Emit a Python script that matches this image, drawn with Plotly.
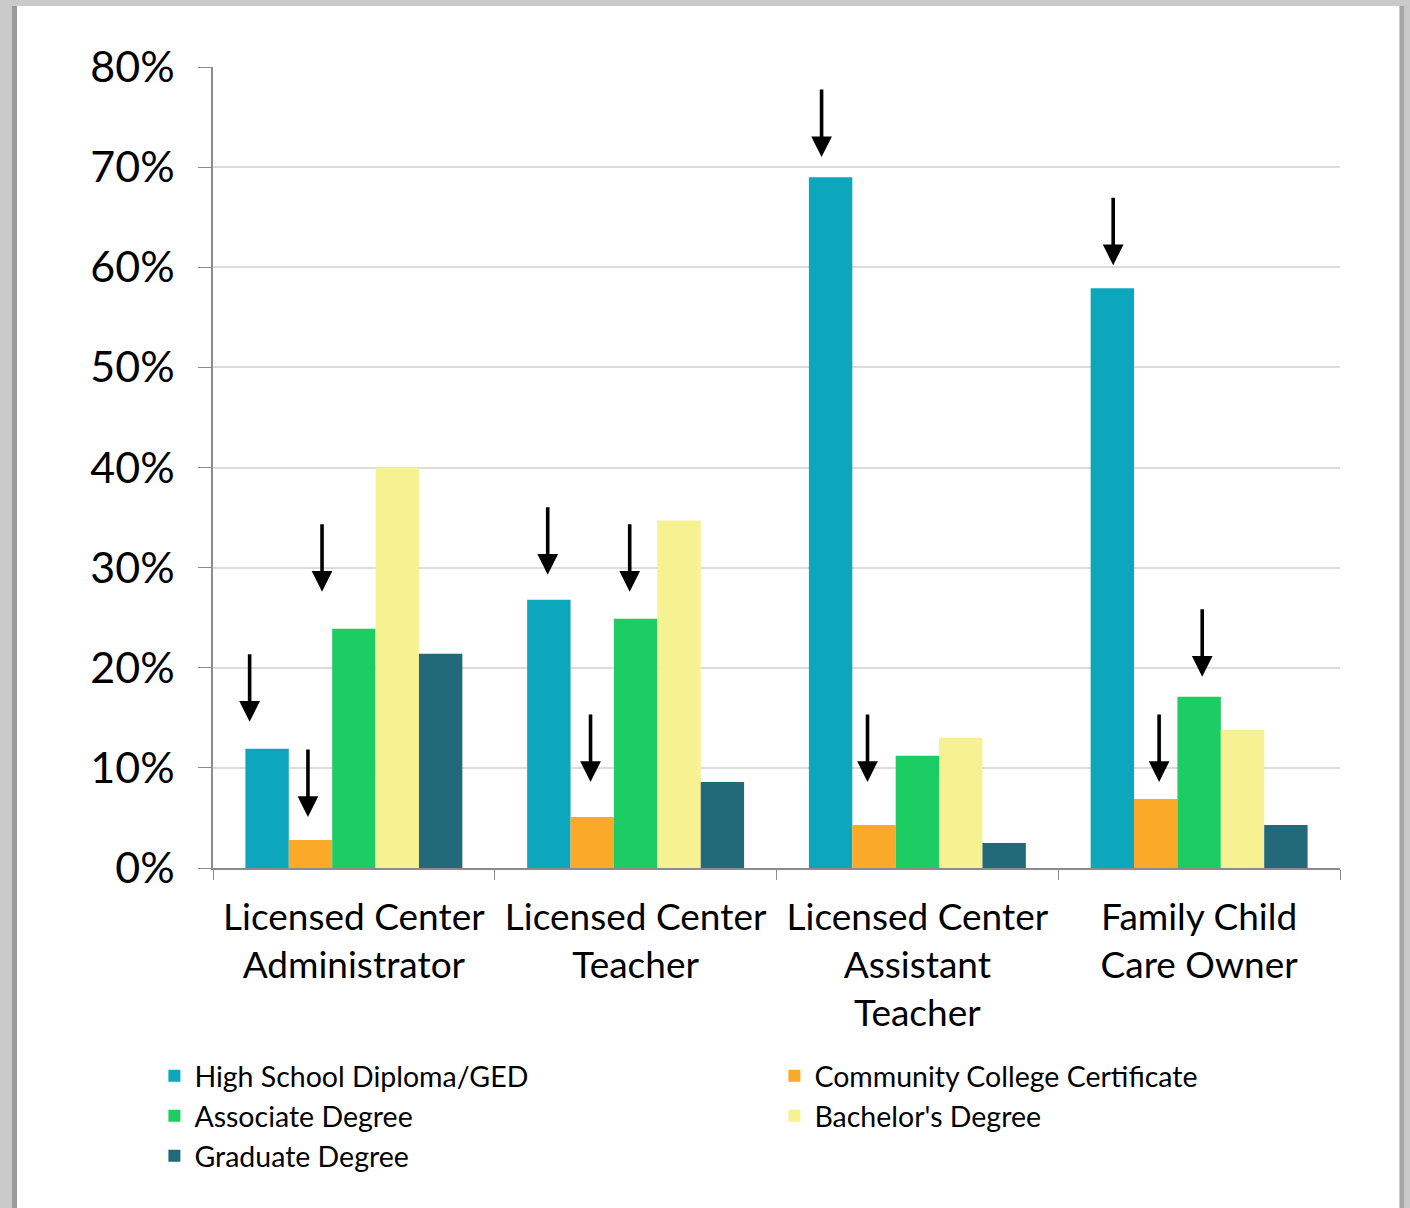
import plotly.graph_objects as go

categories = ["Licensed Center<br>Administrator", "Licensed Center<br>Teacher",
              "Licensed Center<br>Assistant<br>Teacher", "Family Child<br>Care Owner"]
series_names = ["High School Diploma/GED", "Community College Certificate",
                "Associate Degree", "Bachelor's Degree", "Graduate Degree"]
hs = [11.9, 26.8, 69.0, 57.9]
cc = [2.8, 5.1, 4.3, 6.9]
assoc = [23.9, 24.9, 11.2, 17.1]
bach = [40.0, 34.7, 13.0, 13.8]
grad = [21.4, 8.6, 2.5, 4.3]
colors = ["#0ca6bd", "#fba928", "#1ccd63", "#f6f291", "#22697a"]
series_values = [hs, cc, assoc, bach, grad]

# arrows: (category index, x offset within group, arrow tip value %)
arrow_cat = [0, 0, 0, 1, 1, 1, 2, 2, 3, 3, 3]
arrow_off = [-0.37, -0.163, -0.113, -0.312, -0.16, -0.021, -0.34, -0.177, -0.305, -0.142, 0.011]
arrow_tip = [14.6, 5.1, 27.6, 29.3, 8.6, 27.6, 71.0, 8.6, 60.2, 8.6, 19.1]

FONT = "Lato, 'Open Sans', sans-serif"

fig = go.Figure()
for name, vals, col in zip(series_names, series_values, colors):
    fig.add_trace(go.Bar(x=categories, y=vals, name=name,
                         marker=dict(color=col, line=dict(width=0))))

for c, o, t in zip(arrow_cat, arrow_off, arrow_tip):
    fig.add_annotation(x=c + o, y=t, xref="x", yref="y", ax=0, ay=-69,
                       showarrow=True, arrowhead=2, arrowsize=1.15, arrowwidth=3.6,
                       arrowcolor="black", text="")

# page frame (gray strips)
shapes = [
    dict(type="rect", xref="paper", yref="paper", x0=(0-213)/1127, x1=(17-213)/1127,
         y0=(868-1208)/801, y1=(868-0)/801, fillcolor="#c9cac9", line=dict(width=0), layer="below"),
    dict(type="rect", xref="paper", yref="paper", x0=(12-213)/1127, x1=(17-213)/1127,
         y0=(868-1208)/801, y1=(868-6)/801, fillcolor="#9a9b9a", line=dict(width=0), layer="below"),
    dict(type="rect", xref="paper", yref="paper", x0=(0-213)/1127, x1=(1410-213)/1127,
         y0=(868-6)/801, y1=(868-0)/801, fillcolor="#c9cac9", line=dict(width=0), layer="below"),
    dict(type="rect", xref="paper", yref="paper", x0=(1399-213)/1127, x1=(1410-213)/1127,
         y0=(868-1208)/801, y1=(868-0)/801, fillcolor="#c9cac9", line=dict(width=0), layer="below"),
    dict(type="rect", xref="paper", yref="paper", x0=(1400-213)/1127, x1=(1404-213)/1127,
         y0=(868-1208)/801, y1=(868-6)/801, fillcolor="#a5a6a5", line=dict(width=0), layer="below"),
]

fig.update_layout(
    width=1410, height=1208,
    margin=dict(l=213, r=70, t=67, b=340),
    paper_bgcolor="white", plot_bgcolor="white",
    font=dict(family=FONT, color="black"),
    barmode="group", bargap=0.23, bargroupgap=0,
    shapes=shapes,
    showlegend=True,
    legend=dict(orientation="h", x=-0.052, xanchor="left", y=-0.228, yanchor="top",
                font=dict(size=28.5, family=FONT), entrywidth=575, entrywidthmode="pixels",
                tracegroupgap=0, itemclick=False, bgcolor="rgba(0,0,0,0)"),
    xaxis=dict(type="category", range=[-0.5, 3.5], showline=True, linecolor="#8c8c8c", linewidth=1.5,
               ticks="outside", ticklen=10, tickcolor="#8c8c8c", tickson="boundaries",
               showgrid=False, tickfont=dict(size=37), tickangle=0, ticklabelstandoff=16),
    yaxis=dict(range=[0, 80], tickvals=[0, 10, 20, 30, 40, 50, 60, 70, 80],
               ticktext=[f"{v}%" for v in [0, 10, 20, 30, 40, 50, 60, 70, 80]],
               showline=True, linecolor="#8c8c8c", linewidth=1.5,
               ticks="outside", ticklen=13, tickcolor="#8c8c8c",
               showgrid=True, gridcolor="#dcdcdc", gridwidth=1.5,
               tickfont=dict(size=43), ticklabelstandoff=15, zeroline=False),
)

fig.write_html("out.html")
